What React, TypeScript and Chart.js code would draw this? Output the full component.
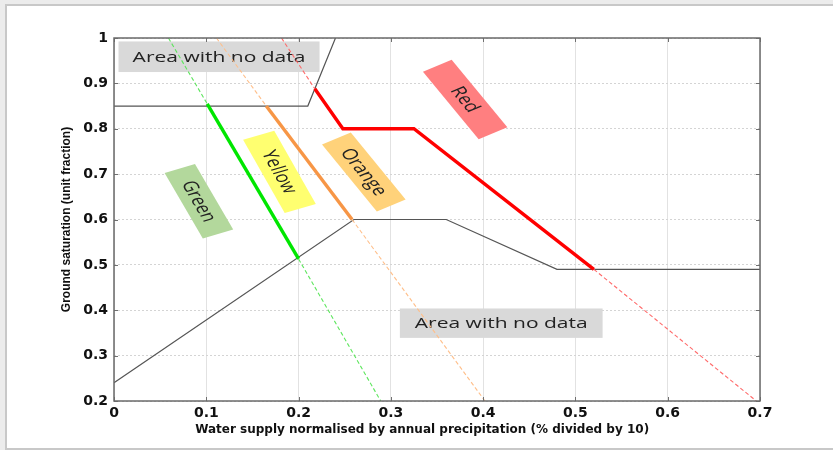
import React, { useEffect, useRef } from 'react';
import { Chart, registerables } from 'chart.js';

Chart.register(...registerables);

// ---- axis ticks ----
const xTicks = [0, 0.1, 0.2, 0.3, 0.4, 0.5, 0.6, 0.7];
const yTicks = [0.2, 0.3, 0.4, 0.5, 0.6, 0.7, 0.8, 0.9, 1];

// ---- axis titles ----
const xTitle = 'Water supply normalised by annual precipitation (% divided by 10)';
const yTitle = 'Ground saturation (unit fraction)';

// ---- boundary lines (area with no data) ----
const upperBoundX = [0, 0.21, 0.24];
const upperBoundY = [0.85, 0.85, 1.0];
const lowerBoundX = [0, 0.26, 0.36, 0.48, 0.7];
const lowerBoundY = [0.24, 0.6, 0.6, 0.49, 0.49];

// ---- threshold lines ----
const greenX = [0.059, 0.101, 0.2, 0.289];
const greenY = [1.0, 0.855, 0.513, 0.2];
const orangeX = [0.111, 0.165, 0.258, 0.402];
const orangeY = [1.0, 0.85, 0.6, 0.2];
const redX = [0.1815, 0.2176, 0.248, 0.325, 0.52, 0.696];
const redY = [1.0, 0.888, 0.8, 0.8, 0.49, 0.2];

// ---- annotation labels ----
const labelTexts = ['Area with no data', 'Area with no data', 'Green', 'Yellow', 'Orange', 'Red'];
const labelX = [0.1138, 0.4196, 0.092, 0.1793, 0.2707, 0.3805];
const labelY = [0.9587, 0.3715, 0.6402, 0.7049, 0.7049, 0.8645];

// label styling (angle deg, box w/h in px before horizontal stretch, fill)
const labelStyles = [
  { angle: 0, w: 143.6, h: 30.6, fill: '#d9d9d9' },
  { angle: 0, w: 144.8, h: 29.4, fill: '#d9d9d9' },
  { angle: 67.4, w: 71, h: 23.5, fill: '#b3d89c' },
  { angle: 67.9, w: 79, h: 24, fill: '#ffff70' },
  { angle: 59.7, w: 77.6, h: 23.8, fill: '#ffd27a' },
  { angle: 59.5, w: 78.4, h: 23.8, fill: '#ff7f80' },
];
const STRETCH = 1.4;

const pts = (xs: number[], ys: number[]) => xs.map((x, i) => ({ x, y: ys[i] }));
const fmt = (v: number | string) => String(Number(Number(v).toFixed(2)));

const seg = (thick: number[], strong: string, light: string, w: number) => ({
  borderColor: (c: any) => (thick.includes(c.p0DataIndex) ? strong : light),
  borderWidth: (c: any) => (thick.includes(c.p0DataIndex) ? w : 1.1),
  borderDash: (c: any) => (thick.includes(c.p0DataIndex) ? [] : [4, 2.5]),
});

const lineBase = {
  showLine: true,
  pointRadius: 0,
  pointHoverRadius: 0,
  fill: false,
  tension: 0,
};

const overlay = {
  id: 'overlay',
  beforeDatasetsDraw(chart: any) {
    const { ctx, scales } = chart;
    labelTexts.forEach((text, i) => {
      const st = labelStyles[i];
      const px = scales.x.getPixelForValue(labelX[i]);
      const py = scales.y.getPixelForValue(labelY[i]);
      ctx.save();
      ctx.translate(px, py);
      ctx.scale(STRETCH, 1);
      ctx.rotate((st.angle * Math.PI) / 180);
      ctx.fillStyle = st.fill;
      ctx.fillRect(-st.w / 2, -st.h / 2, st.w, st.h);
      ctx.fillStyle = '#222222';
      ctx.font = '15px "Open Sans", sans-serif';
      ctx.textAlign = 'center';
      ctx.textBaseline = 'middle';
      ctx.fillText(text, 0, 0.5);
      ctx.restore();
    });
  },
  afterDatasetsDraw(chart: any) {
    const { ctx, chartArea: a, scales } = chart;
    ctx.save();
    ctx.strokeStyle = '#707070';
    ctx.lineWidth = 1;
    const tl = 4;
    ctx.beginPath();
    xTicks.forEach((v) => {
      const p = Math.round(scales.x.getPixelForValue(v)) + 0.5;
      ctx.moveTo(p, a.bottom);
      ctx.lineTo(p, a.bottom - tl);
      ctx.moveTo(p, a.top);
      ctx.lineTo(p, a.top + tl);
    });
    yTicks.forEach((v) => {
      const p = Math.round(scales.y.getPixelForValue(v)) + 0.5;
      ctx.moveTo(a.left, p);
      ctx.lineTo(a.left + tl, p);
      ctx.moveTo(a.right, p);
      ctx.lineTo(a.right - tl, p);
    });
    ctx.stroke();
    ctx.lineWidth = 1.5;
    ctx.strokeStyle = '#6a6a6a';
    ctx.strokeRect(a.left, a.top, a.right - a.left, a.bottom - a.top);

    // x-axis title (sits slightly left of the plot centre in the original)
    ctx.fillStyle = '#111';
    ctx.font = 'bold 12px "DejaVu Sans", sans-serif';
    ctx.textAlign = 'center';
    ctx.textBaseline = 'middle';
    ctx.fillText(xTitle, a.left + (a.right - a.left) * 0.477, a.bottom + 28.5);
    ctx.restore();
  },
};

export default function App() {
  const ref = useRef<HTMLCanvasElement>(null);
  useEffect(() => {
    document.body.style.margin = '0';
    const chart = new Chart(ref.current as HTMLCanvasElement, {
      type: 'scatter',
      data: {
        datasets: [
          { ...lineBase, label: 'Red', data: pts(redX, redY), borderColor: '#ff0000', segment: seg([1, 2, 3], '#ff0000', '#ff6a6a', 3.4) },
          { ...lineBase, label: 'Orange', data: pts(orangeX, orangeY), borderColor: '#f7964a', segment: seg([1], '#f79646', '#ffbf8a', 3.4) },
          { ...lineBase, label: 'Green', data: pts(greenX, greenY), borderColor: '#00ee00', segment: seg([1], '#00e600', '#5ee65e', 3.4) },
          { ...lineBase, label: 'Upper bound', data: pts(upperBoundX, upperBoundY), borderColor: '#555555', borderWidth: 1.2 },
          { ...lineBase, label: 'Lower bound', data: pts(lowerBoundX, lowerBoundY), borderColor: '#555555', borderWidth: 1.2 },
        ],
      },
      options: {
        responsive: false,
        animation: false,
        events: [],
        layout: { padding: { left: 0, top: 38, right: 73, bottom: 0 } },
        plugins: { legend: { display: false }, tooltip: { enabled: false } },
        scales: {
          x: {
            type: 'linear',
            min: 0,
            max: 0.7,
            afterBuildTicks: (s: any) => {
              s.ticks = xTicks.map((v) => ({ value: v }));
            },
            afterFit: (s: any) => {
              s.height = 49;
            },
            grid: { color: '#e2e2e2', lineWidth: 1, drawTicks: false },
            border: { display: false },
            ticks: {
              padding: 4,
              color: '#111',
              font: { family: '"DejaVu Sans", sans-serif', size: 14, weight: 'bold' },
              maxRotation: 0,
              callback: (v: any) => fmt(v),
            },
            title: { display: false },
          },
          y: {
            type: 'linear',
            min: 0.2,
            max: 1,
            afterBuildTicks: (s: any) => {
              s.ticks = yTicks.map((v) => ({ value: v }));
            },
            afterFit: (s: any) => {
              s.width = 114;
            },
            grid: { color: '#d4d4d4', lineWidth: 1, drawTicks: false },
            border: { display: false, dash: [2, 2] },
            ticks: {
              padding: 6,
              color: '#111',
              font: { family: '"DejaVu Sans", sans-serif', size: 14, weight: 'bold' },
              callback: (v: any) => fmt(v),
            },
            title: {
              display: true,
              text: yTitle,
              color: '#111',
              font: { family: '"Liberation Sans Narrow", "Liberation Sans", sans-serif', size: 12, weight: 'bold' },
              padding: { top: 59, bottom: 0 },
            },
          },
        },
      },
      plugins: [overlay],
    } as any);
    return () => chart.destroy();
  }, []);

  return (
    <div style={{ position: 'relative', width: 833, height: 450, background: '#ececec', overflow: 'hidden' }}>
      <div
        style={{
          position: 'absolute',
          left: 5,
          top: 4,
          width: 828,
          height: 442,
          background: '#ffffff',
          borderTop: '2px solid #c8c8c8',
          borderLeft: '2px solid #c8c8c8',
          borderBottom: '2px solid #c8c8c8',
        }}
      />
      <canvas
        ref={ref}
        width={833}
        height={450}
        style={{ position: 'absolute', left: 0, top: 0, width: 833, height: 450 }}
      />
    </div>
  );
}
